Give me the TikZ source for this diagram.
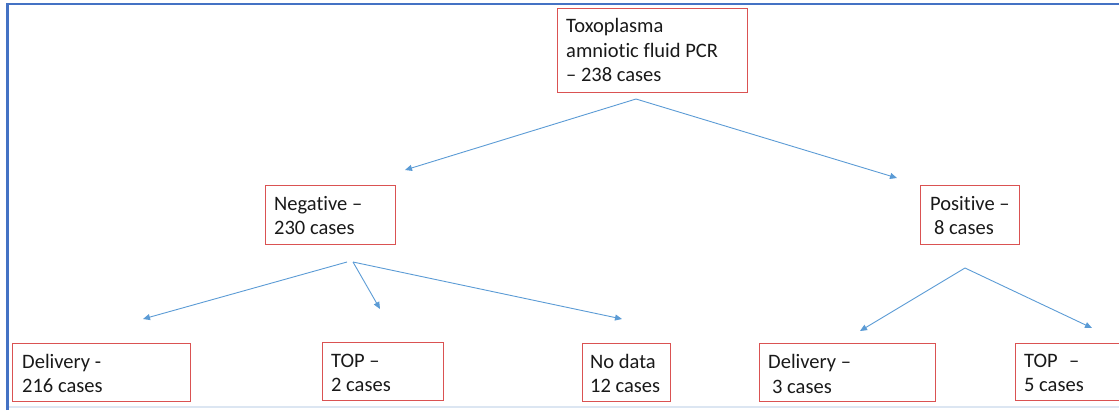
\documentclass[tikz,border=0pt]{standalone}
\usepackage{fontspec}
\setmainfont{Carlito}[Ligatures={NoCommon}]
\usetikzlibrary{arrows.meta}
\definecolor{boxred}{RGB}{218,82,82}
\definecolor{arrowblue}{RGB}{91,155,213}
\definecolor{frameblue}{RGB}{68,114,196}
\definecolor{paleblue}{RGB}{220,230,242}
\tikzset{
  box/.style={draw=boxred, line width=1.1pt, rectangle, inner sep=0pt, anchor=north west},
  txt/.style={inner sep=0pt, align=left, anchor=base west, font=\fontsize{20.5}{24.5}\selectfont, text=black!90},
  link/.style={draw=arrowblue, line width=0.9pt, -{Triangle[length=7pt,width=6pt]}}
}
\begin{document}
\begin{tikzpicture}[x=1pt,y=-1pt]
\useasboundingbox (0,0) rectangle (1119,410);
% frame
\draw[paleblue, line width=2pt] (8,407) -- (1119,407);
\draw[frameblue, line width=2.5pt] (7.5,410) -- (7.5,4) -- (1119,4);
% boxes
\node[box, minimum width=190pt, minimum height=84pt] (root) at (557,8) {};
\node[box, minimum width=130pt, minimum height=59pt] (neg) at (265,185) {};
\node[box, minimum width=99pt, minimum height=59pt] (pos) at (920,185) {};
\node[box, minimum width=178pt, minimum height=58pt] (del1) at (12,343) {};
\node[box, minimum width=121pt, minimum height=58pt] (top1) at (322,342) {};
\node[box, minimum width=88pt, minimum height=58pt] (nod) at (582,343) {};
\node[box, minimum width=176pt, minimum height=58pt] (del2) at (759,343) {};
\node[box, minimum width=115pt, minimum height=57pt] (top2) at (1015,343) {};
% texts (anchor = baseline of last line)
\node[txt] (troot) at ([shift={(9pt,-73.5pt)}]root.north west) {Toxoplasma\\amniotic fluid PCR\\– 238 cases};
\node[txt] (tneg) at ([shift={(9pt,-49.5pt)}]neg.north west) {Negative –\\230 cases};
\node[txt] (tpos) at ([shift={(10pt,-49.5pt)}]pos.north west) {Positive –\\\hspace{4pt}8 cases};
\node[txt] (tdel1) at ([shift={(10pt,-49.5pt)}]del1.north west) {Delivery -\\216 cases};
\node[txt] (ttop1) at ([shift={(9pt,-49.5pt)}]top1.north west) {TOP –\\2 cases};
\node[txt] (tnod) at ([shift={(8pt,-49.5pt)}]nod.north west) {No data\\12 cases};
\node[txt] (tdel2) at ([shift={(9pt,-50pt)}]del2.north west) {Delivery –\\\hspace{4pt}3 cases};
\node[txt] (ttop2) at ([shift={(9pt,-48.5pt)}]top2.north west) {TOP\hspace{0.55em}–\\5 cases};
% arrow coordinates
\coordinate (a0) at (636,99);
\coordinate (a0l) at (405,170);
\coordinate (a0r) at (897,178);
\coordinate (a1l) at (347,262);
\coordinate (a1r) at (353,262);
\coordinate (a1tl) at (143,319);
\coordinate (a1tm) at (380,309);
\coordinate (a1tr) at (622,319);
\coordinate (a2) at (965,268);
\coordinate (a2tl) at (860,331);
\coordinate (a2tr) at (1092,328);
% arrows
\draw[link] (a0) -- (a0l);
\draw[link] (a0) -- (a0r);
\draw[link] (a1l) -- (a1tl);
\draw[link] (a1r) -- (a1tm);
\draw[link] (a1r) -- (a1tr);
\draw[link] (a2) -- (a2tl);
\draw[link] (a2) -- (a2tr);
\end{tikzpicture}
\end{document}
